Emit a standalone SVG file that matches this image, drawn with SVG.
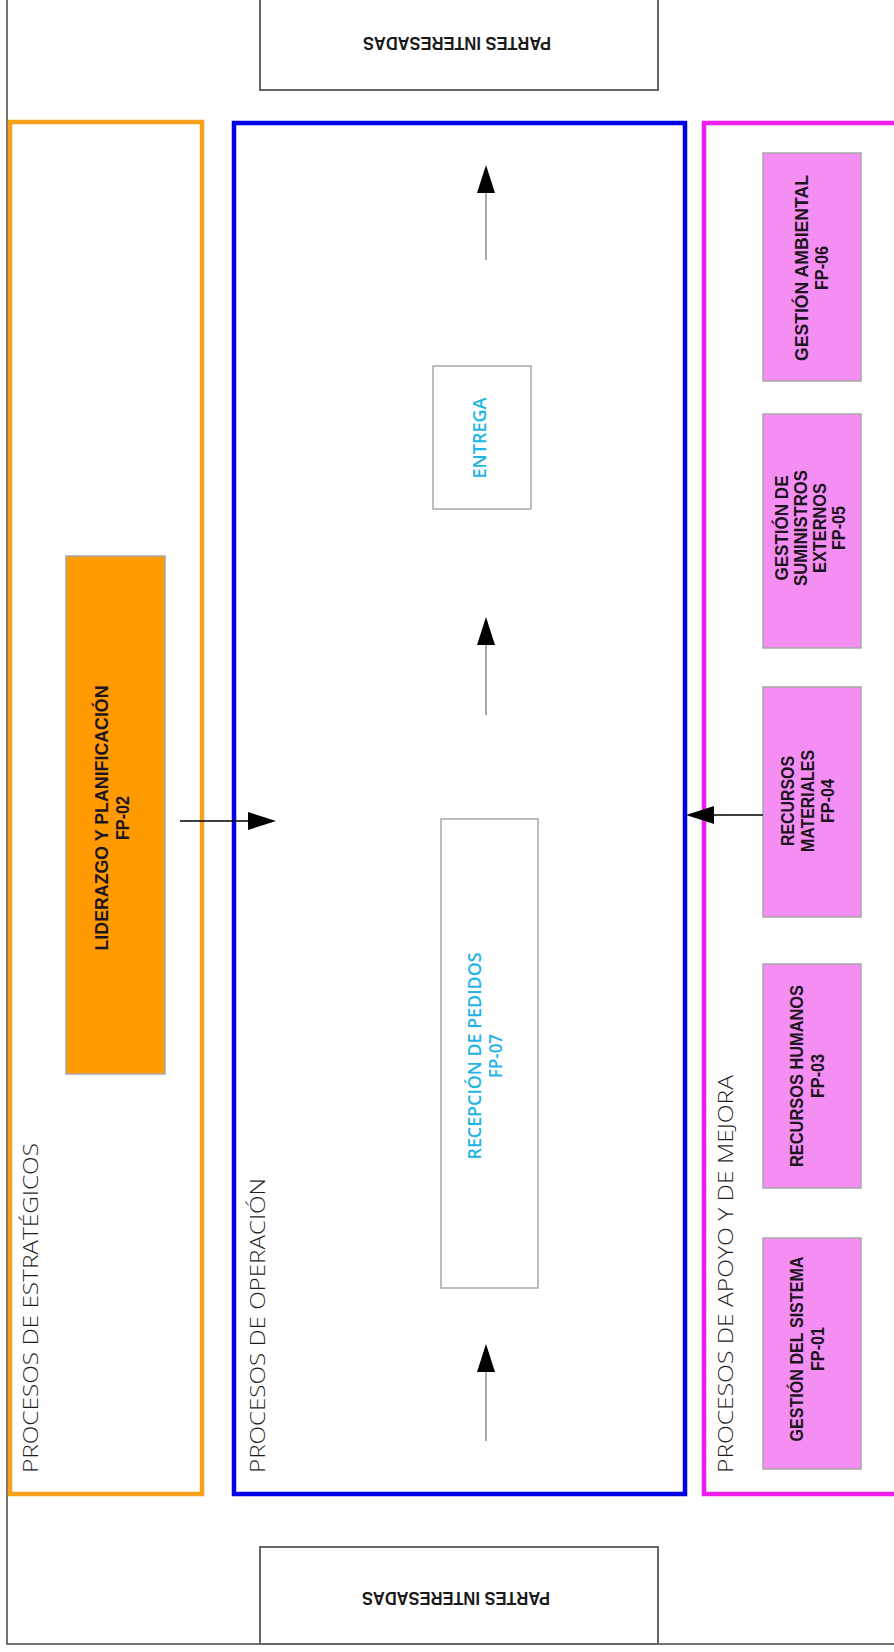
<svg xmlns="http://www.w3.org/2000/svg" width="894" height="1652" viewBox="0 0 894 1652">
  <style>
    .frame{fill:none;stroke:#444;stroke-width:1.5}
    .party{fill:#fff;stroke:#666;stroke-width:2}
    .partyText{font-family:"Liberation Sans",Arial,sans-serif;font-weight:bold;font-size:17.5px;fill:#1a1a1a}
    .lane{fill:none;stroke-width:4.5}
    .laneText{font-family:"Open Sans","Liberation Sans",Arial,sans-serif;font-weight:300;font-size:21px;fill:#1e1e1e}
    .orangeNode{fill:#FF9A00;stroke:#A8A8A8;stroke-width:1.5}
    .pinkNode{fill:#F48EF2;stroke:#A8A8A8;stroke-width:1.5}
    .opNode{fill:#fff;stroke:#A8A8A8;stroke-width:1.5}
    .bold{font-family:"Liberation Sans",Arial,sans-serif;font-weight:bold;font-size:18px;fill:#1c1420;text-anchor:middle}
    .cyan{font-family:"Open Sans","Liberation Sans",Arial,sans-serif;font-weight:600;font-size:18px;fill:#1FB4E6;text-anchor:middle}
    .shaft{stroke:#A8A8A8;stroke-width:2;fill:none}
    .blk{stroke:#000;stroke-width:1.5;fill:none}
    .head{fill:#000}
  </style>

  <rect class="frame" x="7" y="-10" width="900" height="1654"/>

  <g id="partes-top">
    <rect class="party" x="260" y="-10" width="398" height="100"/>
    <text class="partyText" text-anchor="middle" transform="translate(457,37) rotate(180)" textLength="188" lengthAdjust="spacingAndGlyphs">PARTES INTERESADAS</text>
  </g>
  <g id="partes-bottom">
    <rect class="party" x="260" y="1547" width="398" height="97"/>
    <text class="partyText" text-anchor="middle" transform="translate(456,1592) rotate(180)" textLength="188" lengthAdjust="spacingAndGlyphs">PARTES INTERESADAS</text>
  </g>

  <g id="lane-estrategicos">
    <rect class="lane" x="10" y="122" width="192" height="1372" stroke="#F7A21B"/>
    <text class="laneText" transform="translate(38,1473) rotate(-90)" textLength="330" lengthAdjust="spacingAndGlyphs">PROCESOS DE ESTRATÉGICOS</text>
  </g>
  <g id="lane-operacion">
    <rect class="lane" x="234" y="123" width="451" height="1371" stroke="#0000E6"/>
    <text class="laneText" transform="translate(265,1473) rotate(-90)" textLength="295" lengthAdjust="spacingAndGlyphs">PROCESOS DE OPERACIÓN</text>
  </g>
  <g id="lane-apoyo">
    <rect class="lane" x="704" y="123" width="200" height="1371" stroke="#EE1EEE"/>
    <text class="laneText" transform="translate(733,1473) rotate(-90)" textLength="398" lengthAdjust="spacingAndGlyphs">PROCESOS DE APOYO Y DE MEJORA</text>
  </g>

  <g id="fp02">
    <rect class="orangeNode" x="66" y="556" width="99" height="518"/>
    <text class="bold" transform="translate(108,818) rotate(-90)" textLength="265" lengthAdjust="spacingAndGlyphs">LIDERAZGO Y PLANIFICACIÓN</text>
    <text class="bold" transform="translate(129,818) rotate(-90)" textLength="44" lengthAdjust="spacingAndGlyphs">FP-02</text>
  </g>

  <g id="entrega">
    <rect class="opNode" x="433" y="366" width="98" height="143"/>
    <text class="cyan" transform="translate(486,438) rotate(-90)" textLength="81" lengthAdjust="spacingAndGlyphs">ENTREGA</text>
  </g>
  <g id="fp07">
    <rect class="opNode" x="441" y="819" width="97" height="469"/>
    <text class="cyan" transform="translate(481,1056) rotate(-90)" textLength="207" lengthAdjust="spacingAndGlyphs">RECEPCIÓN DE PEDIDOS</text>
    <text class="cyan" transform="translate(502,1056) rotate(-90)" textLength="44" lengthAdjust="spacingAndGlyphs">FP-07</text>
  </g>

  <g id="fp06">
    <rect class="pinkNode" x="763" y="153" width="98" height="228"/>
    <text class="bold" transform="translate(808,268) rotate(-90)" textLength="186" lengthAdjust="spacingAndGlyphs">GESTIÓN AMBIENTAL</text>
    <text class="bold" transform="translate(828,268) rotate(-90)" textLength="44" lengthAdjust="spacingAndGlyphs">FP-06</text>
  </g>
  <g id="fp05">
    <rect class="pinkNode" x="763" y="414" width="98" height="234"/>
    <text class="bold" transform="translate(788,528) rotate(-90)" textLength="105" lengthAdjust="spacingAndGlyphs">GESTIÓN DE</text>
    <text class="bold" transform="translate(807,528) rotate(-90)" textLength="116" lengthAdjust="spacingAndGlyphs">SUMINISTROS</text>
    <text class="bold" transform="translate(826,528) rotate(-90)" textLength="90" lengthAdjust="spacingAndGlyphs">EXTERNOS</text>
    <text class="bold" transform="translate(845,528) rotate(-90)" textLength="44" lengthAdjust="spacingAndGlyphs">FP-05</text>
  </g>
  <g id="fp04">
    <rect class="pinkNode" x="763" y="687" width="98" height="230"/>
    <text class="bold" transform="translate(794,801) rotate(-90)" textLength="90" lengthAdjust="spacingAndGlyphs">RECURSOS</text>
    <text class="bold" transform="translate(814,801) rotate(-90)" textLength="102" lengthAdjust="spacingAndGlyphs">MATERIALES</text>
    <text class="bold" transform="translate(834,801) rotate(-90)" textLength="44" lengthAdjust="spacingAndGlyphs">FP-04</text>
  </g>
  <g id="fp03">
    <rect class="pinkNode" x="763" y="964" width="98" height="224"/>
    <text class="bold" transform="translate(803,1076) rotate(-90)" textLength="182" lengthAdjust="spacingAndGlyphs">RECURSOS HUMANOS</text>
    <text class="bold" transform="translate(824,1076) rotate(-90)" textLength="44" lengthAdjust="spacingAndGlyphs">FP-03</text>
  </g>
  <g id="fp01">
    <rect class="pinkNode" x="763" y="1238" width="98" height="231"/>
    <text class="bold" transform="translate(803,1349) rotate(-90)" textLength="185" lengthAdjust="spacingAndGlyphs">GESTIÓN DEL SISTEMA</text>
    <text class="bold" transform="translate(824,1349) rotate(-90)" textLength="44" lengthAdjust="spacingAndGlyphs">FP-01</text>
  </g>

  <g id="connectors">
    <line class="shaft" x1="486" y1="260" x2="486" y2="192"/>
    <polygon class="head" points="486,165 477,193 495,193"/>
    <line class="shaft" x1="486" y1="715" x2="486" y2="643"/>
    <polygon class="head" points="486,617 477,645 495,645"/>
    <line class="shaft" x1="486" y1="1441" x2="486" y2="1371"/>
    <polygon class="head" points="486,1344 477,1372 495,1372"/>
    <line class="blk" x1="180" y1="821" x2="250" y2="821"/>
    <polygon class="head" points="276,821 248,812 248,830"/>
    <line class="blk" x1="763" y1="815" x2="710" y2="815"/>
    <polygon class="head" points="686,815 714,806 714,824"/>
  </g>
</svg>
